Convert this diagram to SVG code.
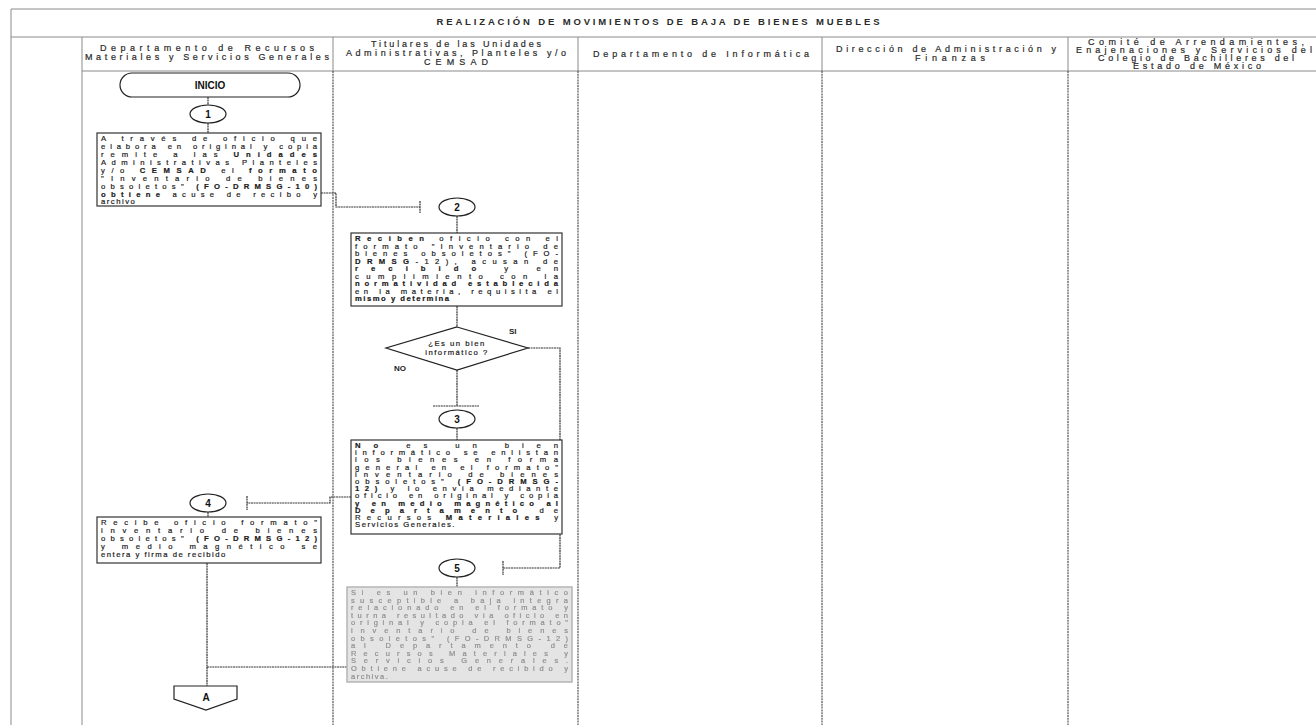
<svg xmlns="http://www.w3.org/2000/svg" width="1316" height="725" viewBox="0 0 1316 725">
<defs>
<filter id="soft" x="-5%" y="-5%" width="110%" height="110%"><feGaussianBlur stdDeviation="0.45"/></filter>
<style>
.frame{stroke:#8a8a8a;stroke-width:1;fill:none}
.lane{stroke:#444;stroke-width:1.1;stroke-dasharray:2 0.8;fill:none}
.hdr{font-family:"Liberation Sans",Arial,sans-serif;font-size:9px;fill:#2a2a2a;stroke:#2a2a2a;stroke-width:0.2;text-anchor:middle}
.ttl{font-family:"Liberation Sans",Arial,sans-serif;font-size:9.5px;font-weight:bold;fill:#2a2a2a;text-anchor:middle}
.box{fill:#fff;stroke:#333;stroke-width:1.2}
.gbox{fill:#e4e4e4;stroke:#b5b5b5;stroke-width:1.5}
.t{font-family:"Liberation Sans",Arial,sans-serif;font-size:7.7px;fill:#1a1a1a;stroke:#1a1a1a;stroke-width:0.2}
.gt{font-family:"Liberation Sans",Arial,sans-serif;font-size:7.5px;fill:#8f8f8f;stroke:#8f8f8f;stroke-width:0.2}
.sp{letter-spacing:1.5px}
.b{font-weight:bold}
.c{fill:#fff;stroke:#222;stroke-width:1.2}
.cn{font-family:"Liberation Sans",Arial,sans-serif;font-size:10px;font-weight:bold;fill:#111;text-anchor:middle}
.ln{stroke:#333;stroke-width:1.2;fill:none;stroke-dasharray:2 0.6}
.lbl{font-family:"Liberation Sans",Arial,sans-serif;font-size:8px;font-weight:bold;fill:#222}
</style>
</defs>
<rect width="1316" height="725" fill="#fff"/>
<g id="frame">
<line class="frame" x1="11" y1="9" x2="1316" y2="9"/>
<line class="frame" x1="11" y1="9" x2="11" y2="725"/>
<line class="frame" x1="11" y1="37" x2="1316" y2="37"/>
<line class="frame" x1="82" y1="37" x2="82" y2="725"/>
<line class="frame" x1="82" y1="71" x2="1316" y2="71"/>
<line class="frame" x1="333" y1="37" x2="333" y2="71"/>
<line class="frame" x1="578" y1="37" x2="578" y2="71"/>
<line class="frame" x1="822" y1="37" x2="822" y2="71"/>
<line class="frame" x1="1068" y1="37" x2="1068" y2="71"/>
<line class="lane" x1="333" y1="71" x2="333" y2="725"/>
<line class="lane" x1="578" y1="71" x2="578" y2="725"/>
<line class="lane" x1="822" y1="71" x2="822" y2="725"/>
<line class="lane" x1="1068" y1="71" x2="1068" y2="725"/>
<text class="ttl" x="658" y="25" textLength="443" lengthAdjust="spacing">REALIZACIÓN DE MOVIMIENTOS DE BAJA DE BIENES MUEBLES</text>
</g>
<g id="headers">
<text class="hdr" x="207" y="51" textLength="214" lengthAdjust="spacing">Departamento de Recursos</text>
<text class="hdr" x="207" y="60" textLength="244" lengthAdjust="spacing">Materiales y Servicios Generales</text>
<text class="hdr" x="456" y="47" textLength="170" lengthAdjust="spacing">Titulares de las Unidades</text>
<text class="hdr" x="456" y="56" textLength="220" lengthAdjust="spacing">Administrativas, Planteles y/o</text>
<text class="hdr" x="456" y="65" textLength="64" lengthAdjust="spacing">CEMSAD</text>
<text class="hdr" x="701" y="57" textLength="216" lengthAdjust="spacing">Departamento de Informática</text>
<text class="hdr" x="946" y="52" textLength="220" lengthAdjust="spacing">Dirección de Administración y</text>
<text class="hdr" x="950" y="61" textLength="70" lengthAdjust="spacing">Finanzas</text>
<text class="hdr" x="1196" y="45" textLength="216" lengthAdjust="spacing">Comité de Arrendamientes,</text>
<text class="hdr" x="1194" y="53" textLength="236" lengthAdjust="spacing">Enajenaciones y Servicios del</text>
<text class="hdr" x="1196" y="61" textLength="196" lengthAdjust="spacing">Colegio de Bachilleres del</text>
<text class="hdr" x="1197" y="69" textLength="128" lengthAdjust="spacing">Estado de México</text>
</g>
<g id="connectors">
<line class="ln" x1="208" y1="97" x2="208" y2="105"/>
<line class="ln" x1="208" y1="123" x2="208" y2="133"/>
<path class="ln" d="M321,193 H336 V207 H420"/>
<line class="ln" x1="420" y1="201" x2="420" y2="213"/>
<line class="ln" x1="457" y1="216" x2="457" y2="233"/>
<line class="ln" x1="457" y1="306" x2="457" y2="327"/>
<line class="ln" x1="457" y1="370" x2="457" y2="406"/>
<line class="ln" x1="433" y1="406" x2="479" y2="406"/>
<line class="ln" x1="457" y1="428" x2="457" y2="440"/>
<path class="ln" d="M528,348 H560 V568 H503"/>
<line class="ln" x1="503" y1="561" x2="503" y2="575"/>
<path class="ln" d="M351,497 H330 V503 H247"/>
<line class="ln" x1="247" y1="496" x2="247" y2="510"/>
<line class="ln" x1="208" y1="512" x2="208" y2="517"/>
<line class="ln" x1="457" y1="577" x2="457" y2="587"/>
<line class="ln" x1="207" y1="563" x2="207" y2="686"/>
<line class="ln" x1="207" y1="667" x2="347" y2="667"/>
</g>
<g id="inicio">
<rect x="120" y="73" width="180" height="24" rx="12" class="c"/>
<text class="cn" x="210" y="89" font-size="11px">INICIO</text>
</g>
<g id="c1"><ellipse cx="208" cy="114" rx="18" ry="9" class="c"/><text class="cn" x="208" y="118">1</text></g>
<g id="box1">
<rect x="97" y="133" width="224" height="73" class="box"/>
<text class="t" x="101" y="141" textLength="216" lengthAdjust="spacing">A través de oficio que</text>
<text class="t" x="101" y="149" textLength="216" lengthAdjust="spacing">elabora en original y copia</text>
<text class="t" x="101" y="157" textLength="216" lengthAdjust="spacing">remite a las <tspan class="b">Unidades</tspan></text>
<text class="t" x="101" y="165" textLength="216" lengthAdjust="spacing">Administrativas Planteles</text>
<text class="t" x="101" y="173" textLength="216" lengthAdjust="spacing">y/o <tspan class="b">CEMSAD</tspan> el <tspan class="b">formato</tspan></text>
<text class="t" x="101" y="181" textLength="216" lengthAdjust="spacing">"Inventario de bienes</text>
<text class="t" x="101" y="189" textLength="216" lengthAdjust="spacing">obsoletos" <tspan class="b">(FO-DRMSG-10)</tspan></text>
<text class="t" x="101" y="197" textLength="216" lengthAdjust="spacing"><tspan class="b">obtiene</tspan> acuse de recibo y</text>
<text class="t sp" x="101" y="204">archivo</text>
</g>
<g id="c2"><ellipse cx="457" cy="207" rx="18" ry="9" class="c"/><text class="cn" x="457" y="211">2</text></g>
<g id="box2">
<rect x="351" y="233" width="211" height="73" class="box"/>
<text class="t" x="355" y="241" textLength="203" lengthAdjust="spacing"><tspan class="b">Reciben</tspan> oficio con el</text>
<text class="t" x="355" y="248.5" textLength="203" lengthAdjust="spacing">formato "Inventario de</text>
<text class="t" x="355" y="256" textLength="203" lengthAdjust="spacing">bienes obsoletos" (FO-</text>
<text class="t" x="355" y="263.5" textLength="203" lengthAdjust="spacing"><tspan class="b">DRMSG</tspan>-12), acusan de</text>
<text class="t" x="355" y="271" textLength="203" lengthAdjust="spacing"><tspan class="b">recibido</tspan> y en</text>
<text class="t" x="355" y="278.5" textLength="203" lengthAdjust="spacing">cumplimiento con la</text>
<text class="t" x="355" y="286" textLength="203" lengthAdjust="spacing"><tspan class="b">normatividad establecida</tspan></text>
<text class="t" x="355" y="293.5" textLength="203" lengthAdjust="spacing">en la materia, requisita el</text>
<text class="t sp" x="355" y="301"><tspan class="b">mismo y determina</tspan></text>
</g>
<g id="decision">
<polygon points="457,327 528,348 457,370 386,348" class="c"/>
<text class="t sp" x="457" y="346" text-anchor="middle">¿Es un bien</text>
<text class="t sp" x="457" y="355" text-anchor="middle">informático ?</text>
<text class="lbl" x="509" y="334">SI</text>
<text class="lbl" x="394" y="371">NO</text>
</g>
<g id="c3"><ellipse cx="457" cy="419" rx="18" ry="9" class="c"/><text class="cn" x="457" y="423">3</text></g>
<g id="box3">
<rect x="351" y="440" width="211" height="94" class="box"/>
<text class="t" x="355" y="448" textLength="203" lengthAdjust="spacing"><tspan class="b">No</tspan> es un bien</text>
<text class="t" x="355" y="455.2" textLength="203" lengthAdjust="spacing">informático se enlistan</text>
<text class="t" x="355" y="462.4" textLength="203" lengthAdjust="spacing">los bienes en forma</text>
<text class="t" x="355" y="469.6" textLength="203" lengthAdjust="spacing">general en el formato"</text>
<text class="t" x="355" y="476.8" textLength="203" lengthAdjust="spacing">inventario de bienes</text>
<text class="t" x="355" y="484" textLength="203" lengthAdjust="spacing">obsoletos" <tspan class="b">(FO-DRMSG-</tspan></text>
<text class="t" x="355" y="491.2" textLength="203" lengthAdjust="spacing"><tspan class="b">12)</tspan> y lo envía mediante</text>
<text class="t" x="355" y="498.4" textLength="203" lengthAdjust="spacing">oficio en original y copia</text>
<text class="t" x="355" y="505.6" textLength="203" lengthAdjust="spacing"><tspan class="b">y en medio magnético al</tspan></text>
<text class="t" x="355" y="512.8" textLength="203" lengthAdjust="spacing"><tspan class="b">Departamento</tspan> de</text>
<text class="t" x="355" y="520" textLength="203" lengthAdjust="spacing">Recursos <tspan class="b">Materiales</tspan> y</text>
<text class="t sp" x="355" y="527.2">Servicios Generales.</text>
</g>
<g id="c4"><ellipse cx="208" cy="503" rx="18" ry="9" class="c"/><text class="cn" x="208" y="507">4</text></g>
<g id="box4">
<rect x="97" y="517" width="224" height="46" class="box"/>
<text class="t" x="101" y="525" textLength="216" lengthAdjust="spacing">Recibe oficio formato"</text>
<text class="t" x="101" y="533" textLength="216" lengthAdjust="spacing">inventario de bienes</text>
<text class="t" x="101" y="541" textLength="216" lengthAdjust="spacing">obsoletos" <tspan class="b">(FO-DRMSG-12)</tspan></text>
<text class="t" x="101" y="549" textLength="216" lengthAdjust="spacing">y medio magnético se</text>
<text class="t sp" x="101" y="557">entera y firma de recibido</text>
</g>
<g id="c5"><ellipse cx="457" cy="568" rx="18" ry="9" class="c"/><text class="cn" x="457" y="572">5</text></g>
<g id="box5">
<rect x="347" y="587" width="225" height="95" class="gbox"/>
<g filter="url(#soft)">
<text class="gt" x="351" y="595" textLength="217" lengthAdjust="spacing">Si es un bien informático</text>
<text class="gt" x="351" y="602.6" textLength="217" lengthAdjust="spacing">susceptible a baja integra</text>
<text class="gt" x="351" y="610.2" textLength="217" lengthAdjust="spacing">relacionado en el formato y</text>
<text class="gt" x="351" y="617.8" textLength="217" lengthAdjust="spacing">turna resultado vía oficio en</text>
<text class="gt" x="351" y="625.4" textLength="217" lengthAdjust="spacing">original y copia el formato"</text>
<text class="gt" x="351" y="633" textLength="217" lengthAdjust="spacing">inventario de bienes</text>
<text class="gt" x="351" y="640.6" textLength="217" lengthAdjust="spacing">obsoletos" (FO-DRMSG-12)</text>
<text class="gt" x="351" y="648.2" textLength="217" lengthAdjust="spacing">al Departamento de</text>
<text class="gt" x="351" y="655.8" textLength="217" lengthAdjust="spacing">Recursos Materiales y</text>
<text class="gt" x="351" y="663.4" textLength="217" lengthAdjust="spacing">Servicios Generales.</text>
<text class="gt" x="351" y="671" textLength="217" lengthAdjust="spacing">Obtiene acuse de recibido y</text>
<text class="gt sp" x="351" y="678.6">archiva.</text>
</g>
</g>
<g id="connA">
<polygon points="174,686 237,686 237,699 206,710 174,699" class="c"/>
<text class="cn" x="206" y="701" font-weight="normal">A</text>
</g>
</svg>
